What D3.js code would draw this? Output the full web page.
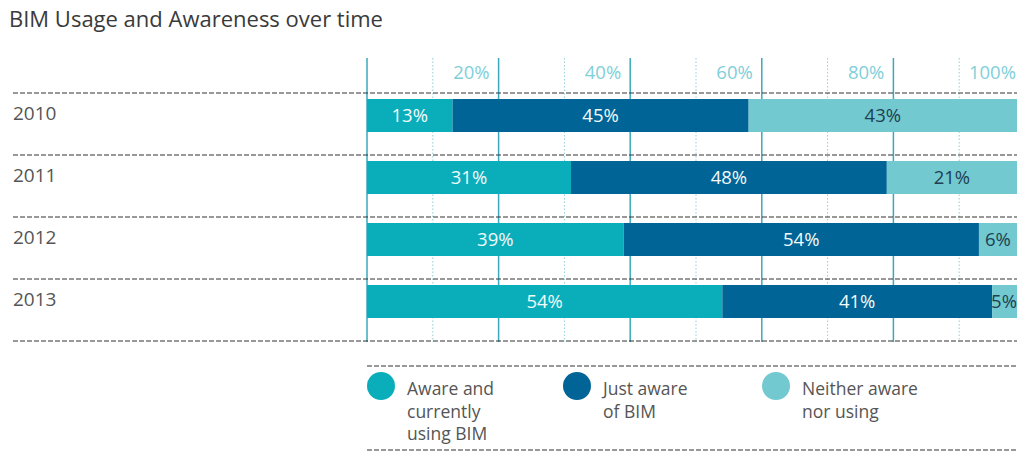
<!DOCTYPE html>
<html>
<head>
<meta charset="utf-8">
<script src="https://cdn.jsdelivr.net/npm/d3@7"></script>
<style>
  html, body { margin: 0; padding: 0; background: #fff; }
  svg { display: block; }
</style>
</head>
<body>
<svg id="chart" width="1017" height="453"></svg>
<script>
// Survey results: share of respondents by BIM awareness, per year
const years = ["2010", "2011", "2012", "2013"];
const seriesNames = ["Aware and currently using BIM", "Just aware of BIM", "Neither aware nor using"];
const awareUsing = [13, 31, 39, 54];
const justAware = [45, 48, 54, 41];
const neither = [43, 21, 6, 5];
const tickValues = [20, 40, 60, 80, 100];
const legendLines = [["Aware and", "currently", "using BIM"], ["Just aware", "of BIM"], ["Neither aware", "nor using"]];

const colors = ["#0aaebb", "#006496", "#72c9cf"];
const labelColors = ["#f4fbfc", "#f4fbfc", "#1f3f52"];
const font = "'Open Sans', sans-serif";
const W = 1017;

const svg = d3.select("#chart");

const x = d3.scaleLinear().domain([0, 100]).range([367, 1025]);
const y = d3.scaleBand().domain(years).range([93, 341]).paddingInner(0).paddingOuter(0);

// Title
svg.append("text")
  .attr("x", 9).attr("y", 27)
  .attr("font-family", font).attr("font-size", 22).attr("fill", "#3a3a3a")
  .text("BIM Usage and Awareness over time");

// Vertical gridlines: solid every 20%, dotted halfway between
const grid = svg.append("g");
d3.range(0, 101, 10).forEach(v => {
  const solid = v % 20 === 0;
  grid.append("line")
    .attr("x1", x(v)).attr("x2", x(v))
    .attr("y1", 58).attr("y2", 342)
    .attr("stroke", solid ? "#3aa9bb" : "#8fd0d8")
    .attr("stroke-width", solid ? 1.5 : 1)
    .attr("stroke-dasharray", solid ? null : "1.5,2");
});

// Tick labels sit just left of each solid gridline
svg.append("g").selectAll("text").data(tickValues).join("text")
  .attr("x", d => x(d) - 9)
  .attr("y", 79)
  .attr("text-anchor", "end")
  .attr("font-family", font).attr("font-size", 18.5).attr("fill", "#7fcfd8")
  .text(d => d + "%");

// Dashed row separators
const sepYs = years.map(yr => y(yr)).concat([y(years[years.length - 1]) + y.bandwidth()]);
svg.append("g").selectAll("line").data(sepYs).join("line")
  .attr("x1", 13).attr("x2", W)
  .attr("y1", d => d).attr("y2", d => d)
  .attr("stroke", "#333").attr("stroke-width", 1)
  .attr("stroke-dasharray", "5,2");

// Year labels
svg.append("g").selectAll("text").data(years).join("text")
  .attr("x", 13)
  .attr("y", d => y(d) + 27)
  .attr("font-family", font).attr("font-size", 19).attr("fill", "#555")
  .text(d => d);

// Stacked bars
const table = years.map((yr, i) => ({ year: yr, s0: awareUsing[i], s1: justAware[i], s2: neither[i] }));
const stack = d3.stack().keys(["s0", "s1", "s2"])(table);
const barTop = 6, barH = 33;

const layers = svg.append("g").selectAll("g").data(stack).join("g")
  .attr("fill", (d, i) => colors[i]);

layers.selectAll("rect").data(d => d).join("rect")
  .attr("x", d => x(d[0]))
  .attr("y", d => y(d.data.year) + barTop)
  .attr("width", d => x(d[1]) - x(d[0]))
  .attr("height", barH);

// Segment value labels, centred on the visible part of each segment
stack.forEach((layer, i) => {
  svg.append("g").selectAll("text").data(layer).join("text")
    .attr("x", d => {
      const x0 = x(d[0]);
      const x1 = Math.min(x(d[1]), W);
      return Math.min((x0 + x1) / 2, W - 13);
    })
    .attr("y", d => y(d.data.year) + barTop + barH / 2)
    .attr("dy", "0.36em")
    .attr("text-anchor", "middle")
    .attr("font-family", font).attr("font-size", 18.5)
    .attr("fill", labelColors[i])
    .text(d => (d[1] - d[0]) + "%");
});

// Legend
const legendTop = 366, legendBottom = 450;
[legendTop, legendBottom].forEach(ly => {
  svg.append("line")
    .attr("x1", 367).attr("x2", W)
    .attr("y1", ly).attr("y2", ly)
    .attr("stroke", "#333").attr("stroke-width", 1)
    .attr("stroke-dasharray", "5,2");
});

const legendX = [381, 577, 776];
const legend = svg.append("g").selectAll("g").data(seriesNames).join("g")
  .attr("transform", (d, i) => `translate(${legendX[i]},386)`);

legend.append("circle").attr("r", 14).attr("fill", (d, i) => colors[i]);

legend.append("text")
  .attr("x", 26).attr("y", 9)
  .attr("font-family", font).attr("font-size", 17.5).attr("fill", "#555")
  .selectAll("tspan").data((d, i) => legendLines[i]).join("tspan")
  .attr("x", 26)
  .attr("dy", (d, j) => j === 0 ? 0 : 22.5)
  .text(d => d);
</script>
</body>
</html>
